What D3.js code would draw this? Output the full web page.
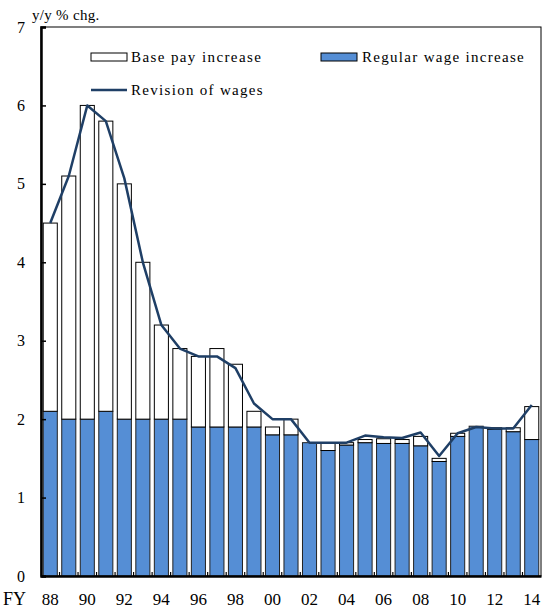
<!DOCTYPE html>
<html><head><meta charset="utf-8">
<script src="https://cdn.jsdelivr.net/npm/d3@7"></script>
<style>body{margin:0;background:#fff}svg{display:block}text{font-family:"Liberation Serif","Times New Roman",serif;fill:#000}</style>
</head><body><svg id="c" width="545" height="613"></svg>
<script>
const years = ["88","89","90","91","92","93","94","95","96","97","98","99","00","01","02","03","04","05","06","07","08","09","10","11","12","13","14"];
const regular = [2.1,2.0,2.0,2.1,2.0,2.0,2.0,2.0,1.9,1.9,1.9,1.9,1.8,1.8,1.7,1.6,1.67,1.7,1.69,1.69,1.66,1.46,1.78,1.91,1.87,1.84,1.74];
const basePay = [2.4,3.1,4.0,3.7,3.0,2.0,1.2,0.9,0.9,1.0,0.8,0.2,0.1,0.2,0.0,0.1,0.03,0.04,0.06,0.05,0.12,0.04,0.04,0.0,0.02,0.05,0.42];
const revision = [4.5,5.1,6.0,5.8,5.07,4.0,3.2,2.9,2.8,2.8,2.65,2.2,2.0,2.0,1.7,1.7,1.7,1.79,1.77,1.76,1.83,1.53,1.82,1.9,1.88,1.88,2.18];
const yTicks = [0,1,2,3,4,5,6,7];
const xLabels = ["88","90","92","94","96","98","00","02","04","06","08","10","12","14"];

const svg = d3.select("#c");
const L=41, R=541, T=27, B=576;
const x = d3.scaleBand().domain(years).range([L,R]).paddingInner(0.24).paddingOuter(0.12);
const y = d3.scaleLinear().domain([0,7]).range([B,T]);
const blue="#558ED5", navy="#1F3F66";
const FONT="Liberation Serif";

// frame
svg.append("rect").attr("x",L).attr("y",T).attr("width",R-L).attr("height",B-T).attr("fill","none").attr("stroke","#000").attr("stroke-width",1);

// bars
const g = svg.append("g");
years.forEach((yr,i)=>{
  g.append("rect").attr("x",x(yr)).attr("width",x.bandwidth())
   .attr("y",y(regular[i])).attr("height",y(0)-y(regular[i]))
   .attr("fill",blue).attr("stroke","#222").attr("stroke-width",1);
  if(basePay[i]>0){
    g.append("rect").attr("x",x(yr)).attr("width",x.bandwidth())
     .attr("y",y(regular[i]+basePay[i])).attr("height",y(regular[i])-y(regular[i]+basePay[i]))
     .attr("fill","#fff").attr("stroke","#000").attr("stroke-width",1);
  }
});

// line
const line = d3.line().x((d,i)=>x(years[i])+x.bandwidth()/2).y(d=>y(d));
svg.append("path").datum(revision).attr("d",line).attr("fill","none").attr("stroke",navy).attr("stroke-width",2.5).attr("stroke-linejoin","round");

// small ticks between bands (upward)
years.forEach((yr,i)=>{
  if(i===0) return;
  const xx = x(yr) - x.step()*x.paddingInner()/2;
  svg.append("line").attr("x1",xx).attr("x2",xx).attr("y1",B).attr("y2",B-4).attr("stroke","#000").attr("stroke-width",1.2);
});

// y axis
const yAxis = d3.axisLeft(y).tickValues(yTicks).tickSize(-5).tickPadding(16).tickFormat(d3.format("d"));
const ya = svg.append("g").attr("transform",`translate(${L},0)`).call(yAxis);
ya.select(".domain").attr("stroke","#000").attr("stroke-width",2.5);
ya.selectAll(".tick line").attr("stroke","#000").attr("stroke-width",1.5);
ya.selectAll("text").attr("font-size",16).attr("font-family",FONT).attr("fill","#000");

// x axis
const xa = svg.append("g").attr("transform",`translate(0,${B})`).call(d3.axisBottom(x).tickValues(xLabels).tickSize(0).tickPadding(17));
xa.select(".domain").attr("stroke","#000").attr("stroke-width",2.5);
xa.selectAll("text").attr("font-size",17).attr("font-family",FONT).attr("fill","#000");

svg.append("text").attr("x",3).attr("y",605).attr("font-size",18).attr("font-family",FONT).text("FY");
svg.append("text").attr("x",32).attr("y",20).attr("font-size",15).attr("font-family",FONT).attr("letter-spacing",0.3).text("y/y % chg.");

// legend
const lg = svg.append("g");
lg.append("rect").attr("x",91).attr("y",53).attr("width",36).attr("height",8).attr("fill","#fff").attr("stroke","#000");
lg.append("text").attr("x",131).attr("y",62).attr("font-size",15).attr("font-family",FONT).attr("letter-spacing",1.4).text("Base pay increase");
lg.append("rect").attr("x",321).attr("y",53).attr("width",36).attr("height",8).attr("fill",blue).attr("stroke","#000");
lg.append("text").attr("x",362).attr("y",62).attr("font-size",15).attr("font-family",FONT).attr("letter-spacing",1.3).text("Regular wage increase");
lg.append("line").attr("x1",91).attr("x2",127).attr("y1",90).attr("y2",90).attr("stroke",navy).attr("stroke-width",2.5);
lg.append("text").attr("x",131).attr("y",95).attr("font-size",15).attr("font-family",FONT).attr("letter-spacing",1.3).text("Revision of wages");
</script></body></html>
